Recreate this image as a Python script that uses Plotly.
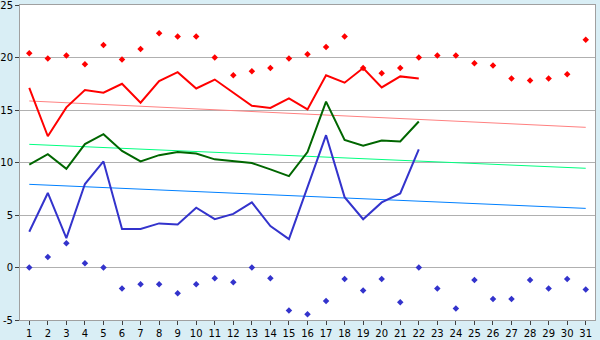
import plotly.graph_objects as go

days = list(range(1, 32))
days_line = list(range(1, 23))

max_points = [20.4, 19.9, 20.2, 19.35, 21.2, 19.8, 20.8, 22.3, 22.0, 22.0,
              20.0, 18.3, 18.7, 19.0, 19.9, 20.3, 21.0, 22.0, 19.0, 18.5,
              19.0, 20.0, 20.2, 20.2, 19.45, 19.25, 18.0, 17.8, 18.0, 18.4, 21.7]
min_points = [0.0, 1.0, 2.3, 0.4, 0.0, -2.0, -1.6, -1.6, -2.45, -1.6,
              -1.03, -1.4, 0.0, -1.03, -4.1, -4.45, -3.2, -1.1, -2.2, -1.1,
              -3.3, 0.0, -2.0, -3.9, -1.2, -3.0, -3.0, -1.2, -2.0, -1.1, -2.1]
max_line = [17.1, 12.5, 15.25, 16.9, 16.65, 17.5, 15.7, 17.75, 18.6, 17.05,
            17.9, 16.65, 15.4, 15.2, 16.1, 15.05, 18.3, 17.6, 19.0, 17.15,
            18.2, 18.0]
mean_line = [9.8, 10.8, 9.4, 11.75, 12.7, 11.1, 10.1, 10.7, 11.0, 10.85,
             10.3, 10.1, 9.95, 9.35, 8.7, 11.0, 15.8, 12.15, 11.6, 12.1,
             12.0, 13.9]
min_line = [3.4, 7.1, 2.8, 7.95, 10.1, 3.67, 3.67, 4.2, 4.1, 5.7,
            4.6, 5.1, 6.2, 3.95, 2.7, 7.6, 12.6, 6.7, 4.6, 6.2,
            7.05, 11.25]
trend_max = [15.86, 13.35]
trend_mean = [11.73, 9.45]
trend_min = [7.92, 5.63]
trend_days = [1, 31]

y_ticks = [-5, 0, 5, 10, 15, 20, 25]

fig = go.Figure()

fig.add_trace(go.Scatter(x=trend_days, y=trend_max, mode="lines",
                         line=dict(color="#FF8080", width=1)))
fig.add_trace(go.Scatter(x=trend_days, y=trend_mean, mode="lines",
                         line=dict(color="#00FF80", width=1)))
fig.add_trace(go.Scatter(x=trend_days, y=trend_min, mode="lines",
                         line=dict(color="#0080FF", width=1)))

fig.add_trace(go.Scatter(x=days_line, y=max_line, mode="lines",
                         line=dict(color="#FF0000", width=2)))
fig.add_trace(go.Scatter(x=days_line, y=mean_line, mode="lines",
                         line=dict(color="#006600", width=2)))
fig.add_trace(go.Scatter(x=days_line, y=min_line, mode="lines",
                         line=dict(color="#3333CC", width=2)))

fig.add_trace(go.Scatter(x=days, y=max_points, mode="markers",
                         marker=dict(color="#FF0000", symbol="diamond", size=5)))
fig.add_trace(go.Scatter(x=days, y=min_points, mode="markers",
                         marker=dict(color="#3333CC", symbol="diamond", size=5)))

fig.update_layout(
    width=600, height=340,
    margin=dict(l=20, r=5, t=5, b=20),
    paper_bgcolor="#D9EEF5",
    plot_bgcolor="#FFFFFF",
    showlegend=False,
    font=dict(family="DejaVu Sans", size=10, color="#000000"),
)
fig.update_xaxes(
    range=[0.5, 31.5], tickmode="array", tickvals=days,
    ticktext=[str(d) for d in days],
    showgrid=False, zeroline=False,
    ticks="outside", ticklen=4, tickcolor="#404040",
    showline=True, linecolor="#A0A0A0", mirror=True,
    ticklabeloverflow="allow", automargin=False,
)
fig.update_yaxes(
    range=[-5, 25], tickmode="array", tickvals=y_ticks,
    ticktext=[str(v) for v in y_ticks],
    showgrid=True, gridcolor="#B0B0B0", gridwidth=1, zeroline=False,
    ticks="outside", ticklen=4, tickcolor="#404040",
    showline=True, linecolor="#A0A0A0", mirror=True,
    ticklabeloverflow="allow", automargin=False, ticklabelstandoff=0,
)

fig.write_html("out.html")
